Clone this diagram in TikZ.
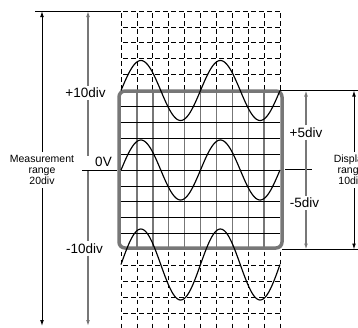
\documentclass[tikz,border=0pt]{standalone}
\usepackage{fontspec}
\setmainfont{Liberation Sans}
\usetikzlibrary{arrows.meta}
\definecolor{gr}{HTML}{777777}
\begin{document}
\begin{tikzpicture}[x=1pt,y=-1pt,
  lbl/.style={font=\fontsize{13.5}{15}\selectfont, inner sep=2pt},
  side/.style={font=\fontsize{10.5}{11}\selectfont, align=center, inner sep=3pt},
  dgrid/.style={line width=0.75pt, dash pattern=on 4.5pt off 3.5pt, dash phase=-2pt},
  arr/.style={-{Latex[length=6pt,width=3.8pt]}, line width=0.9pt},
  plain/.style={line width=0.8pt},
  garr/.style={arr, gr, line width=1.1pt},
  gline/.style={gr, line width=1.1pt},
  wave/.style={line width=1.15pt, smooth},
]
\useasboundingbox (0,0) rectangle (358,327);
\clip (0,0) rectangle (358,327);

% dashed grid above and below the screen
\foreach \i in {0,...,10} {
  \draw[dgrid] ({121+15.9*\i},11) -- ({121+15.9*\i},90.5);
  \draw[dgrid] ({121+15.9*\i},249.5) -- ({121+15.9*\i},332);
}
\foreach \j in {0,...,4}
  \draw[dgrid] (121,{11+15.9*\j}) -- (280,{11+15.9*\j});
\foreach \j in {1,...,5}
  \draw[dgrid] (121,{249.5+15.9*\j}) -- (280,{249.5+15.9*\j});

% solid grid on the screen
\foreach \i in {1,...,9}
  \draw[gr, line width=1.4pt] ({121+15.9*\i},90.5) -- ({121+15.9*\i},249.5);
\foreach \j in {1,...,9}
  \draw[plain] (121,{90.5+15.9*\j}) -- (280,{90.5+15.9*\j});
\draw[gr, line width=3.5pt, rounded corners=6pt] (119,91) rectangle (282,248);

% waves
\draw[wave] plot[domain=0:159, samples=120] ({121+\x},{90.5-30*sin(4.5283*\x)});
\draw[wave] plot[domain=0:159, samples=120] ({121+\x},{170-30*sin(4.5283*\x)});
\draw[wave] plot[domain=0:159, samples=120] ({121+\x},{264.5-35.5*sin(4.5283*\x)});

% coordinates
\coordinate (tl) at (35,11);
\coordinate (gtl) at (121,11);
\coordinate (mtop) at (42,11);
\coordinate (mbot) at (42,326);
\coordinate (gtop) at (88,11);
\coordinate (gbot) at (88,326);
\coordinate (gmu) at (88,156);
\coordinate (gmd) at (88,170);
\coordinate (z1) at (82,170);
\coordinate (z2) at (117,170);
\coordinate (rt1) at (285,169.5);
\coordinate (rt2) at (312,169.5);
\coordinate (ra1) at (280,90.5);
\coordinate (ra2) at (358,90.5);
\coordinate (rb1) at (282,249.5);
\coordinate (rb2) at (358,249.5);
\coordinate (ftop) at (306,90.5);
\coordinate (fbot) at (306,249.5);
\coordinate (dtop) at (354,90.5);
\coordinate (dbot) at (354,249.5);

% labels
\node[side] (meas) at (42,170) {Measurement\\range\\20div};
\node[lbl] (p10) at (85.5,93) {+10div};
\node[lbl] (m10) at (84.5,248.5) {-10div};
\node[lbl] (zero) at (103.5,162) {0V};
\node[lbl] (p5) at (306,132.5) {+5div};
\node[lbl] (m5) at (304.5,203) {-5div};
\node[side] (disp) at (351,170) {Display\\range\\10div};

% lines and arrows
\draw[plain] (tl) -- (gtl);
\draw[arr] (meas.north -| mtop) -- (mtop);
\draw[arr] (meas.south -| mbot) -- (mbot);
\draw[garr] (p10.north -| gtop) -- (gtop);
\draw[gline] (p10.south -| gtop) -- (gmu);
\draw[gline] (gmd) -- (m10.north -| gtop);
\draw[garr] (m10.south -| gbot) -- (gbot);
\draw[plain] (z1) -- (z2);
\draw[plain] (ra1) -- (ra2);
\draw[plain] (rb1) -- (rb2);
\draw[plain] (rt1) -- (rt2);
\draw[garr] (p5.north -| ftop) -- (ftop);
\draw[gline] (p5.south -| ftop) -- (m5.north -| ftop);
\draw[garr] (m5.south -| fbot) -- (fbot);
\draw[arr] (disp.north -| dtop) -- (dtop);
\draw[arr] (disp.south -| dbot) -- (dbot);
\end{tikzpicture}
\end{document}
